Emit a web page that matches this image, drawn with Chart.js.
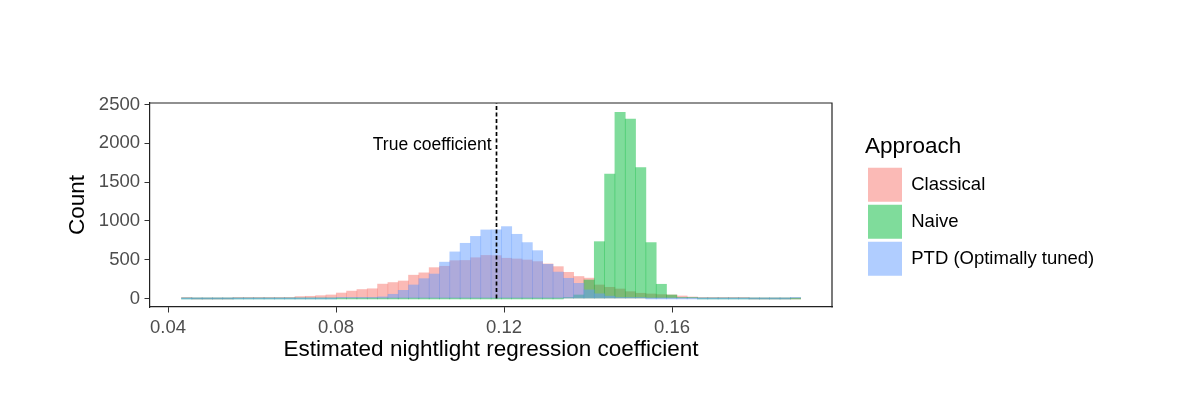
<!DOCTYPE html>
<html>
<head>
<meta charset="utf-8">
<script src="https://cdn.jsdelivr.net/npm/chart.js@4.4.1/dist/chart.umd.min.js"></script>
<style>
  html, body { margin: 0; padding: 0; background: #ffffff; }
  #wrap { width: 1200px; height: 393px; position: relative; }
</style>
</head>
<body>
<div id="wrap"><canvas id="c" width="1200" height="393"></canvas></div>
<script>
// ---- Data (60 shared bins) ----
const binStart = 0.0432;
const binWidth = 0.002457;
const binCenters = Array.from({ length: 60 }, (_, i) => +(binStart + (i + 0.5) * binWidth).toFixed(6));

const seriesNames = ['Classical', 'Naive', 'PTD (Optimally tuned)'];

const classical = [1,0,0,0,0,1,2,3,8,6,
                   14,24,28,36,45,70,95,115,125,185,
                   205,225,300,330,397,415,487,490,525,555,
                   552,518,509,496,475,445,410,337,283,262,
                   174,144,122,88,67,58,50,45,32,19,
                   10,8,4,2,1,0,0,0,0,0];

const naive = [0,0,0,0,0,0,0,0,0,0,
               0,0,0,0,0,0,0,0,0,0,
               0,0,0,0,0,0,0,0,0,0,
               0,0,0,0,0,0,0,8,45,238,
               732,1604,2399,2313,1686,720,183,45,8,2,
               0,0,0,0,0,0,0,0,0,0];

const ptd = [0,0,0,0,0,0,0,0,0,0,
             0,0,0,0,0,2,3,5,9,20,
             54,105,174,255,315,468,600,711,800,883,
             885,926,827,720,616,440,340,260,195,110,
             60,30,12,6,3,0,0,0,0,0,
             0,0,0,0,0,0,0,0,0,1];

const trueCoefficient = 0.1182;
const annotationY = 2000;
const annotationText = 'True coefficient';

const xTicks = [0.04, 0.08, 0.12, 0.16];
const yTicks = [0, 500, 1000, 1500, 2000, 2500];
const xMin = 0.0357, xMax = 0.19808;
const yMin = -110, yMax = 2519;

const xTitle = 'Estimated nightlight regression coefficient';
const yTitle = 'Count';
const legendTitle = 'Approach';

// ---- Styles ----
const FONT = "'Liberation Sans', Arial, Helvetica, sans-serif";
Chart.defaults.font.family = FONT;
const fills = ['rgba(248,118,109,0.5)', 'rgba(0,186,56,0.5)', 'rgba(97,156,255,0.5)'];
const BORDER_COLOR = '#222222';
const BORDER_WIDTH = 1.2;

const toPoints = arr => binCenters.map((x, i) => ({ x: x, y: arr[i] }));

const barBase = {
  type: 'bar',
  grouped: false,
  barPercentage: 1.0,
  categoryPercentage: 1.0,
  borderWidth: 0,
  minBarLength: 1,
  xAxisID: 'x',
  yAxisID: 'y'
};

const datasets = [
  Object.assign({}, barBase, { label: seriesNames[0], data: toPoints(classical), backgroundColor: fills[0], order: 3 }),
  Object.assign({}, barBase, { label: seriesNames[1], data: toPoints(naive), backgroundColor: fills[1], order: 2 }),
  Object.assign({}, barBase, { label: seriesNames[2], data: toPoints(ptd), backgroundColor: fills[2], order: 1 }),
  {
    type: 'line',
    label: 'true',
    data: [{ x: trueCoefficient, y: 0 }, { x: trueCoefficient, y: yMax }],
    borderColor: '#000000',
    borderWidth: 1.7,
    borderDash: [4, 2.5],
    pointRadius: 0,
    fill: false,
    order: 0,
    xAxisID: 'x',
    yAxisID: 'y'
  }
];

const annotationPlugin = {
  id: 'trueCoefLabel',
  afterDatasetsDraw(chart) {
    const ctx = chart.ctx;
    const xs = chart.scales.x, ys = chart.scales.y;
    ctx.save();
    ctx.font = '17.5px ' + FONT;
    ctx.fillStyle = '#000000';
    ctx.textAlign = 'right';
    ctx.textBaseline = 'middle';
    ctx.fillText(annotationText, xs.getPixelForValue(trueCoefficient) - 5, ys.getPixelForValue(annotationY) + 2);
    ctx.restore();
  }
};

// top and right sides of the panel frame
const panelFramePlugin = {
  id: 'panelFrame',
  afterDraw(chart) {
    const a = chart.chartArea;
    const ctx = chart.ctx;
    ctx.save();
    ctx.strokeStyle = BORDER_COLOR;
    ctx.lineWidth = BORDER_WIDTH;
    ctx.beginPath();
    ctx.moveTo(a.left - BORDER_WIDTH / 2, a.top);
    ctx.lineTo(a.right, a.top);
    ctx.lineTo(a.right, a.bottom + BORDER_WIDTH / 2);
    ctx.stroke();
    ctx.restore();
  }
};

const legendWidthPlugin = {
  id: 'legendWidth',
  beforeInit(chart) {
    const lg = chart.legend;
    if (!lg) return;
    const orig = lg.fit;
    lg.fit = function () { orig.call(this); this.width = 335; };
  }
};

const borderStyle = { display: true, color: BORDER_COLOR, width: BORDER_WIDTH };

new Chart(document.getElementById('c'), {
  type: 'bar',
  data: { datasets: datasets },
  plugins: [annotationPlugin, panelFramePlugin, legendWidthPlugin],
  options: {
    responsive: false,
    animation: false,
    devicePixelRatio: 1,
    layout: { padding: { top: 103, left: 0, right: 0, bottom: 0 } },
    scales: {
      x: {
        type: 'linear',
        position: 'bottom',
        min: xMin,
        max: xMax,
        offset: false,
        afterBuildTicks: s => { s.ticks = xTicks.map(v => ({ value: v })); },
        afterFit: s => { s.height = 86; },
        ticks: {
          color: '#4D4D4D',
          font: { size: 18.5 },
          padding: 4,
          maxRotation: 0,
          autoSkip: false,
          callback: v => String(v)
        },
        grid: { display: true, offset: false, drawOnChartArea: false, drawTicks: true, tickLength: 5.5, color: '#333333', lineWidth: 1 },
        border: borderStyle,
        title: { display: true, text: xTitle, color: '#000000', font: { size: 22.5 }, padding: { top: 0, bottom: 29.5 } }
      },
      y: {
        type: 'linear',
        position: 'left',
        min: yMin,
        max: yMax,
        afterBuildTicks: s => { s.ticks = yTicks.map(v => ({ value: v })); },
        afterFit: s => { s.width = 150; },
        ticks: { color: '#4D4D4D', font: { size: 18.5 }, padding: 4.5, callback: v => String(v) },
        grid: { display: true, drawOnChartArea: false, drawTicks: true, tickLength: 5.5, color: '#333333', lineWidth: 1 },
        border: borderStyle,
        title: { display: true, text: yTitle, color: '#000000', font: { size: 22.5 }, padding: { top: 64.5, bottom: 0 } }
      },
      yRight: {
        type: 'linear',
        position: 'right',
        display: true,
        ticks: { display: false },
        grid: { display: false, drawTicks: false, tickLength: 0 },
        border: { display: false },
        afterFit: s => { s.width = 33; }
      }
    },
    plugins: {
      tooltip: { enabled: false },
      legend: {
        display: true,
        position: 'right',
        align: 'start',
        title: {
          display: true,
          position: 'start',
          text: legendTitle,
          color: '#000000',
          font: { size: 22.5, lineHeight: 1.2 },
          padding: { top: 32.5, bottom: 2.2 }
        },
        labels: {
          boxWidth: 34,
          boxHeight: 34,
          padding: 3,
          color: '#000000',
          font: { size: 18.5 },
          filter: item => item.datasetIndex < 3,
          sort: (a, b) => a.datasetIndex - b.datasetIndex
        }
      }
    }
  }
});
</script>
</body>
</html>
